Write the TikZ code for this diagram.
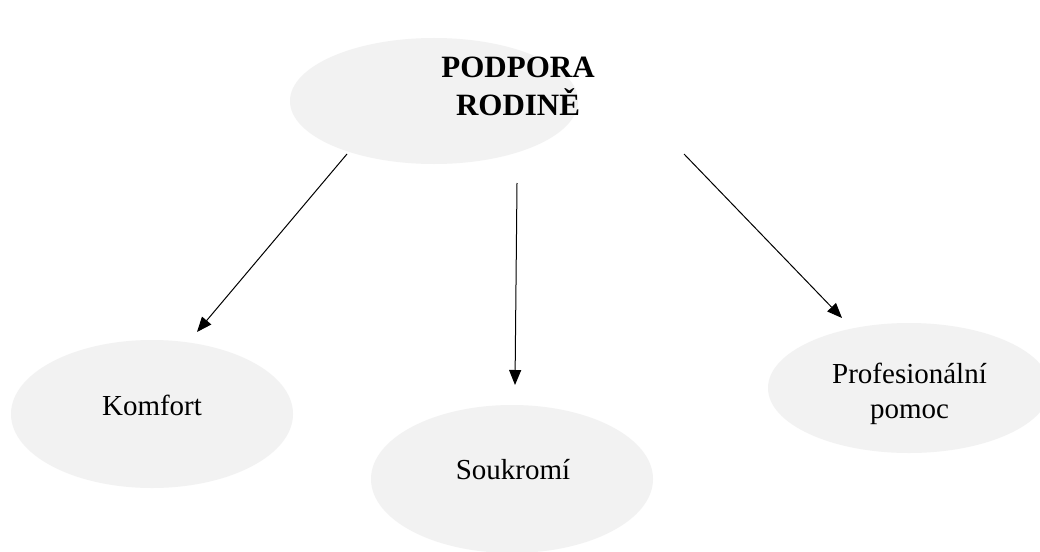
\documentclass[tikz,border=0pt]{standalone}
\usepackage{fontspec}
\setmainfont{Liberation Serif}
\usetikzlibrary{shapes.geometric,arrows.meta}
\definecolor{ellfill}{RGB}{242,242,242}
\tikzset{
  blob/.style={ellipse,fill=ellfill,draw=none,inner sep=0pt},
  lbl/.style={anchor=base,inner sep=0pt,font=\fontsize{29}{35}\selectfont},
  toplbl/.style={anchor=base,inner sep=0pt,font=\fontsize{31}{38}\selectfont\bfseries},
  link/.style={line width=1pt,-{Triangle[length=15pt,width=12pt]}}
}
\begin{document}
\begin{tikzpicture}[x=1pt,y=-1pt]
\clip (0,0) rectangle (1040,551);
\fill[white] (0,0) rectangle (1040,551);
% ellipses
\node[blob,minimum width=288pt,minimum height=126pt] (top) at (434,101) {};
\node[blob,minimum width=282pt,minimum height=148pt] (komf) at (152,414) {};
\node[blob,minimum width=282pt,minimum height=148pt] (souk) at (512,479) {};
\node[blob,minimum width=282pt,minimum height=130pt] (prof) at (909,388) {};
% labels
\node[toplbl] (t1) at (518,77) {PODPORA};
\node[toplbl] (t2) at (518,115) {RODINĚ};
\node[lbl] (k1) at (152,415) {Komfort};
\node[lbl] (s1) at (513,479) {Soukromí};
\node[lbl] (p1) at (909.5,383) {Profesionální};
\node[lbl] (p2) at (909.5,418) {pomoc};
% arrows
\coordinate (a1s) at (347,154);
\coordinate (a1e) at (197,332);
\coordinate (a2s) at (517,183);
\coordinate (a2e) at (515,385);
\coordinate (a3s) at (684,154);
\coordinate (a3e) at (842,318);
\draw[link] (a1s) -- (a1e);
\draw[link] (a2s) -- (a2e);
\draw[link] (a3s) -- (a3e);
\end{tikzpicture}
\end{document}
